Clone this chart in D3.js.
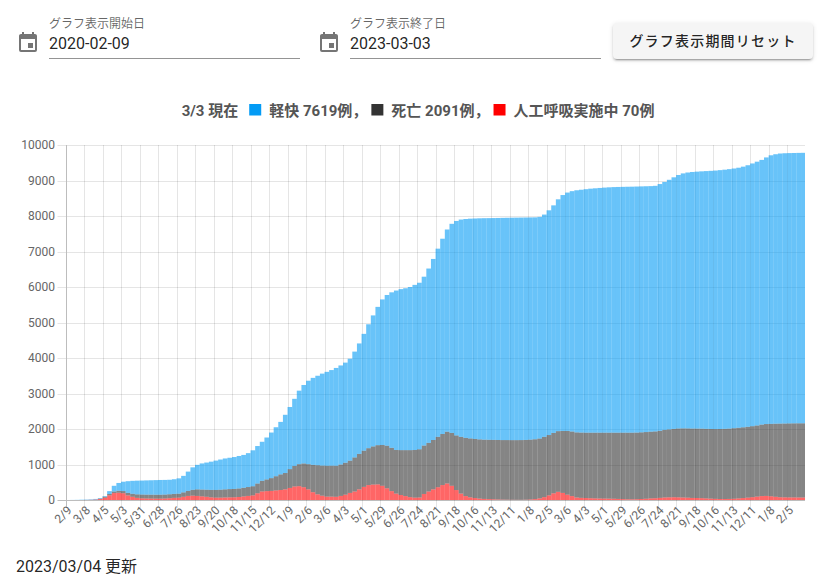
<!DOCTYPE html>
<html>
<head>
<meta charset="utf-8">
<script src="https://cdn.jsdelivr.net/npm/d3@7"></script>
<style>
  body { margin: 0; background: #fff; font-family: Roboto, "Noto Sans CJK JP", sans-serif; }
  #wrap { position: relative; width: 824px; height: 587px; overflow: hidden; }
  .field { position: absolute; top: 0; width: 300px; height: 62px; }
  .field .lbl { position: absolute; left: 49px; top: 14px; font-size: 12px; color: rgba(0,0,0,0.6); white-space: nowrap; }
  .field .val { position: absolute; left: 49px; top: 34px; font-size: 16px; color: rgba(0,0,0,0.87); white-space: nowrap; }
  .field .line { position: absolute; left: 49px; top: 58px; width: 251px; height: 1px; background: rgba(0,0,0,0.42); }
  .field svg { position: absolute; left: 16px; top: 31px; }
  #reset { position: absolute; left: 613px; top: 23px; width: 200px; height: 36px; background: #f5f5f5;
    border-radius: 4px; box-shadow: 0 3px 1px -2px rgba(0,0,0,.2), 0 2px 2px 0 rgba(0,0,0,.14), 0 1px 5px 0 rgba(0,0,0,.12);
    font-size: 14px; font-weight: 500; letter-spacing: 1.2px; color: rgba(0,0,0,0.87);
    line-height: 36px; text-align: center; }
  #updated { position: absolute; left: 16px; top: 553px; font-size: 16px; color: rgba(0,0,0,0.87); }
  #chart { position: absolute; left: 0; top: 0; }
</style>
</head>
<body>
<div id="wrap">
  <svg id="chart" width="824" height="587"></svg>
  <div id="updated">2023/03/04 更新</div>
  <div id="reset">グラフ表示期間リセット</div>
</div>
<script>
// daily categories start on 2020-02-09; one value per 7 days below
var dayCount = 1119;
var weekStep = 7;

var fields = [
  {label: "グラフ表示開始日", value: "2020-02-09", left: 0},
  {label: "グラフ表示終了日", value: "2023-03-03", left: 301}
];

// x tick labels, one every 28 days
var tickLabels = ["2/9","3/8","4/5","5/3","5/31","6/28","7/26","8/23","9/20","10/18",
  "11/15","12/12","1/9","2/6","3/6","4/3","5/1","5/29","6/26","7/24",
  "8/21","9/18","10/16","11/13","12/11","1/8","2/5","3/6","4/3","5/1",
  "5/29","6/26","7/24","8/21","9/18","10/16","11/13","12/11","1/8","2/5"];

var yTicks = [0,1000,2000,3000,4000,5000,6000,7000,8000,9000,10000];

// 人工呼吸実施中 (weekly)
var ventilator = [0,0,0,0,2,5,12,30,65,130,195,205,190,130,90,60,47,42,40,38,
  38,42,50,60,66,90,115,122,115,103,90,75,66,66,70,74,76,85,100,115,
  130,190,240,250,256,270,282,300,340,380,390,360,300,220,160,120,95,95,90,115,
  150,200,240,300,370,420,435,440,400,330,250,180,140,110,80,66,70,170,240,300,
  360,420,465,400,280,180,110,75,55,40,30,25,20,15,10,8,6,5,5,8,
  15,25,45,80,130,188,230,200,150,110,70,60,55,50,45,42,40,38,35,30,
  25,20,19,22,28,35,45,50,60,70,75,78,75,70,65,58,56,52,45,38,
  32,28,28,30,35,45,55,66,80,95,110,115,105,90,78,75,73,72,71,70];

// 死亡 (weekly, cumulative)
var deaths = [0,0,0,0,0,1,3,10,28,40,45,55,62,70,85,100,108,110,111,112,
  112,112,112,112,112,125,140,165,185,192,200,210,218,225,230,233,236,240,245,250,
  258,275,300,330,360,400,440,460,530,580,620,670,710,770,820,850,870,872,875,885,
  900,910,960,1000,1020,1040,1075,1105,1150,1200,1220,1230,1265,1295,1325,1342,1360,1365,1370,1390,
  1420,1440,1460,1490,1540,1600,1640,1660,1665,1668,1670,1672,1674,1676,1678,1680,1681,1682,1683,1684,
  1686,1686,1688,1700,1700,1702,1710,1745,1795,1820,1835,1840,1842,1847,1852,1855,1857,1859,1862,1867,
  1872,1877,1878,1878,1878,1879,1880,1882,1890,1905,1915,1925,1940,1948,1952,1955,1956,1958,1960,1963,
  1966,1972,1977,1982,1988,1990,1993,1997,2000,2005,2015,2025,2040,2060,2075,2080,2085,2088,2090,2091];

// 総数 (weekly, top of the stack); 軽快 = total - deaths - ventilator
var total = [0,2,4,8,12,18,30,55,110,250,400,480,515,530,540,545,548,552,556,560,
  564,566,570,585,610,680,800,920,990,1030,1055,1080,1110,1140,1170,1190,1210,1240,1270,1320,
  1400,1520,1640,1760,1900,2050,2200,2400,2620,2850,3080,3240,3360,3440,3500,3560,3610,3660,3720,3790,
  3870,3980,4180,4410,4680,4950,5200,5440,5650,5775,5850,5900,5940,5965,6000,6060,6120,6290,6520,6790,
  7080,7360,7620,7780,7860,7900,7915,7925,7930,7935,7938,7940,7942,7945,7948,7950,7952,7954,7956,7958,
  7960,7962,7975,8040,8160,8300,8470,8590,8660,8700,8725,8740,8755,8770,8780,8790,8800,8808,8814,8818,
  8821,8824,8826,8830,8834,8838,8842,8850,8900,8960,9020,9090,9155,9200,9225,9240,9250,9258,9265,9272,
  9280,9292,9305,9320,9338,9360,9390,9430,9480,9530,9580,9650,9710,9740,9760,9768,9772,9775,9778,9780];

var legendItems = [
  {text: "軽快 7619例，", color: "#039bf5"},
  {text: "死亡 2091例，", color: "#333333"},
  {text: "人工呼吸実施中 70例", color: "#ff0000"}
];
var titlePrefix = "3/3 現在";

var rows = total.map(function(t, i) {
  return {day: i * weekStep, vent: ventilator[i], death: deaths[i], mild: t - deaths[i] - ventilator[i]};
});

var fillColors = {vent: "rgba(255,0,0,0.6)", death: "rgba(51,51,51,0.6)", mild: "rgba(3,155,245,0.6)"};

// top fields
var calPath = "M19,19H5V8H19M16,1V3H8V1H6V3H5C3.89,3 3,3.89 3,5V19A2,2 0 0,0 5,21H19A2,2 0 0,0 21,19V5C21,3.89 20.1,3 19,3H18V1M17,12H12V17H17V12Z";
var f = d3.select("#wrap").selectAll(".field").data(fields).enter().append("div")
  .attr("class", "field")
  .style("left", function(d) { return d.left + "px"; });
f.append("svg").attr("width", 24).attr("height", 24).attr("viewBox", "0 0 24 24")
  .append("path").attr("d", calPath).attr("fill", "rgba(0,0,0,0.54)");
f.append("div").attr("class", "lbl").text(function(d) { return d.label; });
f.append("div").attr("class", "val").text(function(d) { return d.value; });
f.append("div").attr("class", "line");

var svg = d3.select("#chart");
var plotLeft = 65.5, plotRight = 805, plotTop = 145, plotBottom = 500;

var x = d3.scaleLinear().domain([0, dayCount]).range([plotLeft, plotRight]);
var y = d3.scaleLinear().domain([0, 10000]).range([plotBottom, plotTop]);

// grid
var grid = svg.append("g");
grid.selectAll(".hg").data(yTicks).enter().append("line")
  .attr("x1", plotLeft - 8).attr("x2", plotRight)
  .attr("y1", function(d) { return Math.round(y(d)) + 0.5; }).attr("y2", function(d) { return Math.round(y(d)) + 0.5; })
  .attr("stroke", function(d) { return d === 0 ? "#bdbdbd" : "rgba(0,0,0,0.1)"; });
grid.selectAll(".vg").data(tickLabels).enter().append("line")
  .attr("x1", function(d, i) { return Math.round(x(i * 28)) + 0.5; })
  .attr("x2", function(d, i) { return Math.round(x(i * 28)) + 0.5; })
  .attr("y1", plotTop).attr("y2", plotBottom + 8)
  .attr("stroke", function(d, i) { return i === 0 ? "#bdbdbd" : "rgba(0,0,0,0.1)"; });

// stacked bars
var stack = d3.stack().keys(["vent", "death", "mild"]);
var series = stack(rows);
var bw = x(weekStep) - x(0);
svg.append("g").selectAll("g").data(series).enter().append("g")
  .attr("fill", function(s) { return fillColors[s.key]; })
  .selectAll("rect").data(function(s) { return s; }).enter().append("rect")
  .attr("x", function(d) { return x(d.data.day); })
  .attr("width", function(d) { return Math.min(bw, plotRight - x(d.data.day)); })
  .attr("y", function(d) { return y(d[1]); })
  .attr("height", function(d) { return Math.max(0, y(d[0]) - y(d[1])); });

// y labels
svg.append("g").selectAll("text").data(yTicks).enter().append("text")
  .attr("x", 55).attr("y", function(d) { return y(d); })
  .attr("dy", "0.35em").attr("text-anchor", "end")
  .attr("font-size", 12).attr("fill", "#666")
  .text(function(d) { return d; });

// x labels
svg.append("g").selectAll("text").data(tickLabels).enter().append("text")
  .attr("transform", function(d, i) { return "translate(" + (x(i * 28) + 4) + "," + (plotBottom + 8) + ") rotate(-45)"; })
  .attr("text-anchor", "end").attr("dy", "0.35em")
  .attr("font-size", 12).attr("fill", "#666")
  .text(function(d) { return d; });

// title with legend squares
var title = svg.append("g").attr("font-size", 15).attr("font-weight", "bold").attr("fill", "#555");
var cx = 0, ty = 115.5;
var t0 = title.append("text").attr("x", cx).attr("y", ty).text(titlePrefix);
cx += t0.node().getComputedTextLength() + 11;
legendItems.forEach(function(item) {
  title.append("rect").attr("x", cx).attr("y", ty - 11.5).attr("width", 12).attr("height", 11.5).attr("fill", item.color);
  cx += 20;
  var t = title.append("text").attr("x", cx).attr("y", ty).text(item.text);
  cx += t.node().getComputedTextLength() + 4;
});
title.attr("transform", "translate(" + (181.7) + ",0)");
</script>
</body>
</html>
